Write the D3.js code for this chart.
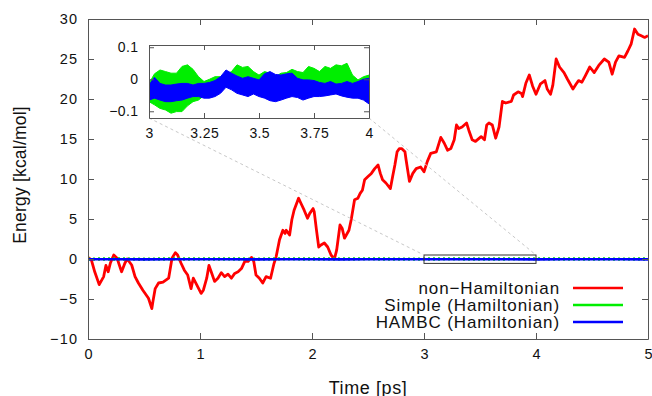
<!DOCTYPE html>
<html>
<head>
<meta charset="utf-8">
<script src="https://cdn.jsdelivr.net/npm/d3@7"></script>
<style>
  html, body { margin: 0; padding: 0; background: #fff; }
  svg { display: block; font-family: "Liberation Sans", Arial, sans-serif; }
</style>
</head>
<body>
<svg id="chart" width="652" height="396"></svg>
<script>
// non-Hamiltonian energy drift
const redTime = [0,0.03,0.06,0.1,0.14,0.16,0.18,0.2,0.23,0.26,0.29,0.3,0.33,0.35,0.39,0.42,0.45,0.49,0.54,0.57,0.58,0.6,0.63,0.67,0.72,0.75,0.78,0.8,0.83,0.86,0.89,0.92,0.94,0.97,1.01,1.03,1.06,1.08,1.1,1.13,1.16,1.19,1.22,1.25,1.28,1.31,1.34,1.37,1.4,1.43,1.46,1.48,1.5,1.53,1.56,1.59,1.63,1.66,1.68,1.71,1.74,1.76,1.77,1.8,1.82,1.84,1.88,1.9,1.93,1.96,1.98,2.01,2.02,2.04,2.06,2.08,2.11,2.14,2.17,2.2,2.22,2.25,2.27,2.29,2.33,2.35,2.38,2.41,2.43,2.45,2.47,2.5,2.53,2.56,2.59,2.61,2.63,2.66,2.7,2.72,2.74,2.76,2.78,2.8,2.83,2.84,2.87,2.9,2.93,2.97,3.0,3.03,3.06,3.11,3.15,3.18,3.21,3.24,3.27,3.29,3.31,3.34,3.38,3.4,3.43,3.46,3.51,3.54,3.56,3.58,3.61,3.64,3.67,3.7,3.73,3.78,3.8,3.84,3.87,3.88,3.91,3.94,3.97,4.0,4.04,4.08,4.1,4.13,4.15,4.18,4.21,4.25,4.28,4.33,4.36,4.38,4.41,4.44,4.48,4.52,4.56,4.61,4.65,4.68,4.71,4.74,4.79,4.82,4.85,4.88,4.91,4.94,4.97,5.0];
const redEnergy = [0.2,-0.1,-1.6,-3.2,-2.2,-0.8,-1.6,-0.5,0.5,0.1,-1.2,-1.6,-0.5,0,-0.75,-2.2,-3.0,-3.9,-4.9,-6.2,-5.3,-3.7,-3.0,-2.9,-2.4,0.1,0.8,0.5,-0.5,-1.4,-2.0,-3.7,-2.4,-3.2,-4.3,-3.9,-2.4,-0.8,-1.6,-2.8,-2.4,-1.7,-2.2,-1.9,-2.4,-1.8,-1.6,-1.2,-0.3,-0.3,0.2,-0.3,-2.0,-2.4,-3.0,-2.2,-2.4,-0.6,0.3,2.4,3.6,3.2,3.6,3.0,4.9,6.1,7.6,7.0,6.1,5.1,5.7,6.3,5.9,3.6,1.5,1.75,2.0,1.5,0.5,0,1.1,4.25,3.8,2.6,3.6,4.9,7.4,7.6,8.2,8.6,9.9,10.3,10.7,11.3,11.75,10.7,9.9,9.5,8.8,10.3,11.75,13.4,13.8,13.8,13.4,12.4,9.7,10.7,11.3,11.5,10.9,12.2,13.2,13.4,15.2,14.5,13.6,13.8,14.9,16.75,16.3,16.5,17.0,16.1,14.9,14.7,15.3,14.9,16.75,17.0,16.75,15.1,16.5,19.7,19.5,19.7,20.5,20.9,20.7,20.3,22.0,23.0,21.6,20.6,21.9,22.3,21.25,20.6,21.7,25.0,24.0,23.3,22.5,21.25,21.9,22.3,22.1,22.9,24.0,23.3,24.2,25.0,24.6,23.1,24.6,25.4,25.2,26.0,26.9,28.75,28.1,27.9,27.7,27.9];

// Hamiltonian runs on the full scale (flat near zero)
const mainTime = [0,0.25,0.5,0.75,1,1.25,1.5,1.75,2,2.25,2.5,2.75,3,3.25,3.5,3.75,4,4.25,4.5,4.75,5];
const simpleMain = [-0.02,0.01,-0.03,0.02,-0.01,0.01,-0.02,0.02,0.0,-0.01,0.02,-0.02,-0.01,0.02,-0.01,0.01,0.02,-0.01,0.01,-0.02,0.0];
const hambcMain = [-0.04,-0.03,-0.05,-0.03,-0.04,-0.03,-0.05,-0.04,-0.03,-0.05,-0.04,-0.03,-0.04,-0.03,-0.03,-0.04,-0.05,-0.03,-0.04,-0.04,-0.05];

// inset (3-4 ps): upper/lower envelopes of the dense fluctuations
const insetTime = [3.000,3.025,3.050,3.075,3.100,3.125,3.150,3.175,3.200,3.225,3.250,3.275,3.300,3.325,3.350,3.375,3.400,3.425,3.450,3.475,3.500,3.525,3.550,3.575,3.600,3.625,3.650,3.675,3.700,3.725,3.750,3.775,3.800,3.825,3.850,3.875,3.900,3.925,3.950,3.975,4.000];
const simpleHigh = [-0.013,0.017,0.029,0.024,0.019,0.019,0.040,0.045,0.031,0.008,-0.007,0.000,0.008,0.008,0.015,0.024,0.045,0.037,0.040,0.024,0.013,0.024,0.019,0.008,0.019,0.021,0.031,0.024,0.021,0.040,0.034,0.024,0.040,0.034,0.045,0.042,0.050,0.013,-0.002,0.008,0.013];
const simpleLow = [-0.070,-0.080,-0.091,-0.096,-0.106,-0.101,-0.101,-0.083,-0.070,-0.065,-0.051,-0.051,-0.046,-0.036,-0.017,-0.025,-0.036,-0.041,-0.046,-0.038,-0.046,-0.051,-0.059,-0.062,-0.057,-0.051,-0.046,-0.049,-0.057,-0.051,-0.046,-0.046,-0.044,-0.041,-0.038,-0.044,-0.048,-0.051,-0.051,-0.057,-0.069];
const hambcHigh = [-0.018,0.006,-0.013,-0.018,-0.018,-0.015,-0.013,-0.013,-0.018,-0.013,-0.013,-0.010,-0.004,0.008,0.029,0.019,0.010,0.003,0.008,0.003,-0.002,0.017,0.024,0.015,0.013,0.017,0.019,0.003,-0.002,-0.002,-0.004,-0.010,-0.013,-0.007,-0.015,-0.013,-0.007,-0.013,-0.007,0.000,0.003];
const hambcLow = [-0.065,-0.059,-0.065,-0.070,-0.070,-0.067,-0.065,-0.059,-0.054,-0.054,-0.059,-0.059,-0.054,-0.044,-0.025,-0.033,-0.044,-0.049,-0.054,-0.046,-0.054,-0.059,-0.067,-0.070,-0.065,-0.059,-0.054,-0.057,-0.065,-0.059,-0.054,-0.054,-0.052,-0.049,-0.046,-0.052,-0.056,-0.059,-0.059,-0.065,-0.077];

const xTicks = [0, 1, 2, 3, 4, 5];
const yTicks = [-10, -5, 0, 5, 10, 15, 20, 25, 30];
const insetXTicks = [3, 3.25, 3.5, 3.75, 4];
const insetYTicks = [-0.1, 0, 0.1];
const zoomBox = { t0: 3, t1: 4, e0: -0.55, e1: 0.5 };

const series = ["non\u2212Hamiltonian", "Simple (Hamiltonian)", "HAMBC (Hamiltonian)"];
const colors = ["#ff0000", "#00ee00", "#0000ff"];

const svg = d3.select("#chart");
const fmt = d => String(d).replace("-", "\u2212");
const axisColor = "#555";

// main frame
const margin = { top: 19, right: 4, bottom: 57, left: 88 };
const width = 652 - margin.left - margin.right;
const height = 396 - margin.top - margin.bottom;

const x = d3.scaleLinear().domain([0, 5]).range([margin.left, margin.left + width]);
const y = d3.scaleLinear().domain([-10, 30]).range([margin.top + height, margin.top]);

svg.append("clipPath").attr("id", "clipMain")
  .append("rect").attr("x", x(0)).attr("y", y(30)).attr("width", width).attr("height", height);

function drawFrame(sx, sy, xt, yt, tickLen, fontSize, spacing, cls) {
  const g = svg.append("g").attr("class", cls);
  const [x0, x1] = sx.range(), [y0, y1] = sy.range();
  const bottom = g.append("g").attr("transform", `translate(0,${y0})`)
    .call(d3.axisBottom(sx).tickValues(xt).tickSizeInner(-tickLen).tickSizeOuter(0).tickFormat(fmt).tickPadding(10));
  g.append("g").attr("transform", `translate(0,${y1})`)
    .call(d3.axisTop(sx).tickValues(xt).tickSizeInner(-tickLen).tickSizeOuter(0).tickFormat(""));
  g.append("g").attr("transform", `translate(${x0},0)`)
    .call(d3.axisLeft(sy).tickValues(yt).tickSizeInner(-tickLen).tickSizeOuter(0).tickFormat(fmt).tickPadding(11 - spacing));
  g.append("g").attr("transform", `translate(${x1},0)`)
    .call(d3.axisRight(sy).tickValues(yt).tickSizeInner(-tickLen).tickSizeOuter(0).tickFormat(""));
  g.selectAll(".domain").attr("stroke", axisColor);
  g.selectAll(".tick line").attr("stroke", axisColor);
  g.selectAll("text").attr("fill", "#111")
    .style("font-size", fontSize + "px").style("letter-spacing", spacing + "px");
  bottom.selectAll("text").attr("dx", spacing / 2);
  return g;
}

// main curves
const lineMain = d3.line().x(d => x(d[0])).y(d => y(d[1]));
const curves = svg.append("g").attr("clip-path", "url(#clipMain)");
curves.append("path")
  .datum(redTime.map((t, i) => [t, redEnergy[i]]))
  .attr("fill", "none").attr("stroke", colors[0]).attr("stroke-width", 2.8)
  .attr("stroke-linejoin", "round").attr("d", lineMain);
curves.append("path")
  .datum(mainTime.map((t, i) => [t, simpleMain[i]]))
  .attr("fill", "none").attr("stroke", colors[1]).attr("stroke-width", 3.4)
  .attr("stroke-dasharray", "2 3").attr("d", lineMain);
curves.append("path")
  .datum(mainTime.map((t, i) => [t, hambcMain[i]]))
  .attr("fill", "none").attr("stroke", colors[2]).attr("stroke-width", 2.6).attr("d", lineMain);

drawFrame(x, y, xTicks, yTicks, 6, 14.5, 1.2, "main-axes");

// axis titles
svg.append("text")
  .attr("x", x(2.5)).attr("y", 394)
  .attr("text-anchor", "middle").style("font-size", "18px").style("letter-spacing", "0.6px").attr("fill", "#111")
  .text("Time [ps]");
svg.append("text")
  .attr("transform", `translate(26,${(y(30) + y(-10)) / 2 - 4}) rotate(-90)`)
  .attr("text-anchor", "middle").style("font-size", "17.5px").style("letter-spacing", "0.2px").attr("fill", "#111")
  .text("Energy [kcal/mol]");

// inset
const ix = d3.scaleLinear().domain([3, 4]).range([149, 369]);
const iy = d3.scaleLinear().domain([-0.121, 0.107]).range([118, 45]);

// zoom box and connectors
svg.append("rect")
  .attr("x", x(zoomBox.t0)).attr("y", y(zoomBox.e1))
  .attr("width", x(zoomBox.t1) - x(zoomBox.t0)).attr("height", y(zoomBox.e0) - y(zoomBox.e1))
  .attr("fill", "none").attr("stroke", "#333").attr("stroke-width", 1);
const connectors = [[ix(3), iy.range()[0], x(zoomBox.t0), y(zoomBox.e1)],
                    [ix(4), iy.range()[0], x(zoomBox.t1), y(zoomBox.e1)]];
svg.selectAll(".connector").data(connectors).join("line")
  .attr("class", "connector")
  .attr("x1", d => d[0]).attr("y1", d => d[1]).attr("x2", d => d[2]).attr("y2", d => d[3])
  .attr("stroke", "#c8c8c8").attr("stroke-width", 1).attr("stroke-dasharray", "3 3");

svg.append("rect").attr("x", 149).attr("y", 45).attr("width", 220).attr("height", 73).attr("fill", "#fff");
svg.append("clipPath").attr("id", "clipInset")
  .append("rect").attr("x", 149).attr("y", 45).attr("width", 220).attr("height", 73);

const band = (hi, lo) => d3.area()
  .x((d, i) => ix(insetTime[i])).y0((d, i) => iy(lo[i])).y1((d, i) => iy(hi[i]));
const insetG = svg.append("g").attr("clip-path", "url(#clipInset)");
insetG.append("path").datum(insetTime)
  .attr("fill", colors[1]).attr("stroke", colors[1]).attr("stroke-width", 1)
  .attr("d", band(simpleHigh, simpleLow));
insetG.append("path").datum(insetTime)
  .attr("fill", colors[2]).attr("stroke", colors[2]).attr("stroke-width", 1)
  .attr("d", band(hambcHigh, hambcLow));

drawFrame(ix, iy, insetXTicks, insetYTicks, 5, 14, 0.4, "inset-axes");

// legend
const legend = svg.append("g").attr("transform", "translate(560,288)");
series.forEach((name, i) => {
  const row = legend.append("g").attr("transform", `translate(0,${i * 17})`);
  row.append("text").attr("text-anchor", "end").attr("dy", "0.35em")
    .style("font-size", "17px").style("letter-spacing", "0.9px").attr("fill", "#111").text(name);
  row.append("line").attr("x1", 13).attr("x2", 63)
    .attr("stroke", colors[i]).attr("stroke-width", 2.5);
});
</script>
</body>
</html>
